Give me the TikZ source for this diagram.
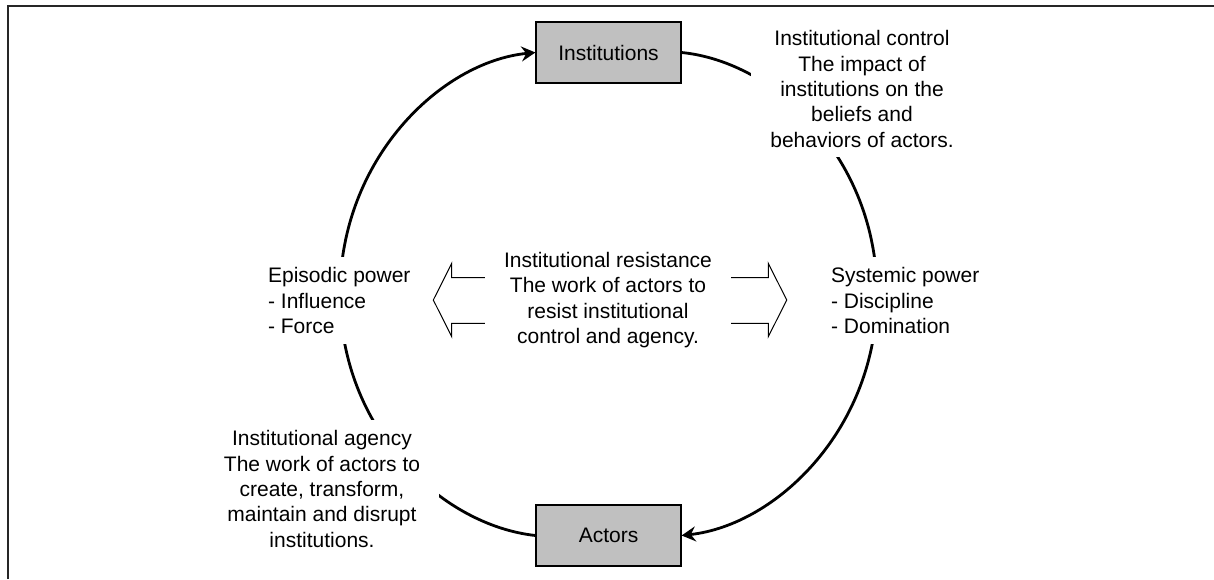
\documentclass[tikz,border=0pt]{standalone}
\usepackage{fontspec}
\setmainfont{Liberation Sans}
\usetikzlibrary{arrows.meta}
\definecolor{boxgray}{HTML}{C0C0C0}
\begin{document}
\begin{tikzpicture}[x=0.5pt,y=-0.5pt,
  font=\fontsize{10.5pt}{12.7pt}\selectfont,
  box/.style={draw=black, line width=0.6pt, fill=boxgray, minimum width=72.5pt, minimum height=30.5pt, inner sep=0pt},
  lbl/.style={fill=white, inner xsep=9.5pt, inner ysep=5pt},
  flow/.style={line width=1.4pt, -{Stealth[length=7pt,width=7.5pt,inset=2.4pt]}},
  hollow/.style={line width=0.5pt, line join=miter},
  frame/.style={line width=0.7pt, draw=black!85}]
\useasboundingbox (0,0) rectangle (1214,579);
\draw[frame] (8,579) -- (8,6) -- (1214,6);

% boxes
\node[box] (inst) at (608.5,52.5) {Institutions};
\node[box] (act) at (608.5,535.5) {Actors};

% hollow double arrow (behind the resistance text)
\draw[hollow] (486,277.7) -- (451.7,277.7) -- (451.7,263.3) -- (433.3,300) -- (451.7,336.7) -- (451.7,323.3) -- (486,323.3);
\draw[hollow] (730,277.7) -- (768.3,277.7) -- (768.3,263.3) -- (786.7,300) -- (768.3,336.7) -- (768.3,323.3) -- (730,323.3);

% cycle connectors
\draw[flow] (act.west) .. controls (440,525) and (340,428) .. (340,294)
            .. controls (340,160) and (440,62) .. (inst.west);
\draw[flow] (inst.east) .. controls (777,62) and (877,160) .. (877,294)
            .. controls (877,428) and (777,525) .. (act.east);

% labels
\node[lbl, align=center, anchor=north] (ctrl) at (862,20)
  {Institutional control\\The impact of\\institutions on the\\beliefs and\\behaviors of actors.};
\node[lbl, align=left, anchor=north west] (epis) at (248.7,257)
  {Episodic power\\- Influence\\- Force};
\node[lbl, align=left, anchor=north west] (syst) at (811.7,257)
  {Systemic power\\- Discipline\\- Domination};
\node[lbl, align=center, anchor=north] (resist) at (608,241.7)
  {Institutional resistance\\The work of actors to\\resist institutional\\control and agency.};
\node[lbl, align=center, anchor=north] (agency) at (322,420)
  {Institutional agency\\The work of actors to\\create, transform,\\maintain and disrupt\\institutions.};
\end{tikzpicture}
\end{document}
